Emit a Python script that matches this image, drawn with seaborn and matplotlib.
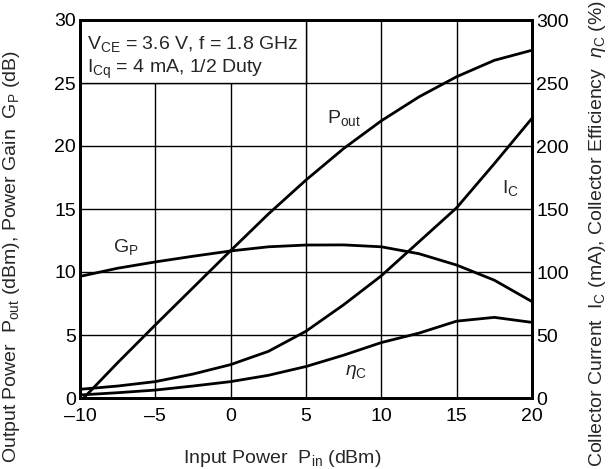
import matplotlib
matplotlib.use("Agg")
import matplotlib.pyplot as plt
import seaborn as sns
import pandas as pd
from matplotlib.patches import Rectangle

pin = [-10, -7.5, -5, -2.5, 0, 2.5, 5, 7.5, 10, 12.5, 15, 17.5, 20]
pout = [-0.3, 2.8, 5.8, 8.75, 11.7, 14.6, 17.3, 19.8, 22.0, 23.9, 25.5, 26.8, 27.6]
gp = [9.65, 10.3, 10.8, 11.25, 11.67, 12.0, 12.14, 12.15, 12.0, 11.45, 10.55, 9.35, 7.65]
ic = [6.9, 9.5, 13, 19, 26.5, 37, 53, 74, 97, 124, 151, 186, 222]
eta = [2.4, 4.2, 6.3, 9.5, 13, 18, 25, 34, 44, 51.5, 61, 64, 60]

xticks = [-10, -5, 0, 5, 10, 15, 20]
yticks_left = [0, 5, 10, 15, 20, 25, 30]
yticks_right = [0, 50, 100, 150, 200, 250, 300]

sns.set_theme(style="white")
plt.rcParams["font.family"] = ["Liberation Sans", "DejaVu Sans"]
plt.rcParams["mathtext.fontset"] = "custom"
plt.rcParams["mathtext.rm"] = "Liberation Sans"
plt.rcParams["mathtext.it"] = "Liberation Sans:italic"
plt.rcParams["mathtext.bf"] = "Liberation Sans:bold"

df = pd.DataFrame({"pin": pin, "pout": pout, "gp": gp, "ic": ic, "eta": eta})

fig = plt.figure(figsize=(6.13, 4.69), dpi=100)
ax = fig.add_axes([80 / 613, 71 / 469, 452 / 613, 378 / 469])
ax2 = ax.twinx()

lw = 2.0
sns.lineplot(data=df, x="pin", y="pout", ax=ax, color="black", lw=lw, zorder=3)
sns.lineplot(data=df, x="pin", y="gp", ax=ax, color="black", lw=lw, zorder=3)
sns.lineplot(data=df, x="pin", y="ic", ax=ax2, color="black", lw=lw, zorder=3)
sns.lineplot(data=df, x="pin", y="eta", ax=ax2, color="black", lw=lw, zorder=3)

fs = 14
ax.set_xlim(-10, 20)
ax.set_ylim(0, 30)
ax2.set_ylim(0, 300)
ax.set_xticks(xticks)
ax.set_yticks(yticks_left)
ax2.set_yticks(yticks_right)
ax.set_xticklabels([str(t).replace("-", "\u2013") for t in xticks])
ax.set_xlabel("")
ax.set_ylabel("")
ax2.set_ylabel("")
ax.grid(True, color="black", lw=1.0)
ax2.grid(False)
ax.tick_params(axis="x", length=0, pad=7, labelsize=fs, colors="black")
ax.tick_params(axis="y", length=0, pad=3, labelsize=fs, colors="black")
ax2.tick_params(axis="y", length=0, pad=3, labelsize=fs, colors="black")
for a in (ax, ax2):
    for s in a.spines.values():
        s.set_color("black")
        s.set_linewidth(2.0)

ax.add_patch(Rectangle((-10, 25), 15, 5, facecolor="white", edgecolor="black",
                       lw=1.0, zorder=2))
ax.text(-9.55, 28.1, r"$\mathregular{V_{CE}}$ = 3.6 V, f = 1.8 GHz", fontsize=fs,
        va="center", ha="left", zorder=4)
ax.text(-9.55, 26.1, r"$\mathregular{I_{Cq}}$ = 4 mA, 1/2 Duty", fontsize=fs,
        va="center", ha="left", zorder=4)

ax.text(6.4, 22.2, r"$\mathregular{P_{out}}$", fontsize=fs, va="center", ha="left", zorder=4)
ax.text(18.0, 16.7, r"$\mathregular{I_{C}}$", fontsize=fs, va="center", ha="left", zorder=4)
ax.text(-7.8, 12.0, r"$\mathregular{G_{P}}$", fontsize=fs, va="center", ha="left", zorder=4)
ax.text(7.6, 2.06, r"$\eta_\mathregular{C}$", fontsize=fs, va="center", ha="left", zorder=4)

fig.text(282 / 613, 11 / 469, r"Input Power  $\mathregular{P_{in}}$ (dBm)", fontsize=fs,
         ha="center", va="center")
fig.text(12 / 613, 6 / 469,
         r"Output Power  $\mathregular{P_{out}}$ (dBm), Power Gain  $\mathregular{G_{P}}$ (dB)",
         fontsize=fs, rotation=90, ha="center", va="bottom")
fig.text(598 / 613, 2 / 469,
         r"Collector Current  $\mathregular{I_{C}}$ (mA), Collector Efficiency  $\eta_\mathregular{C}$ (%)",
         fontsize=fs, rotation=90, ha="center", va="bottom")

fig.savefig("out.png", dpi=100, facecolor="white")
